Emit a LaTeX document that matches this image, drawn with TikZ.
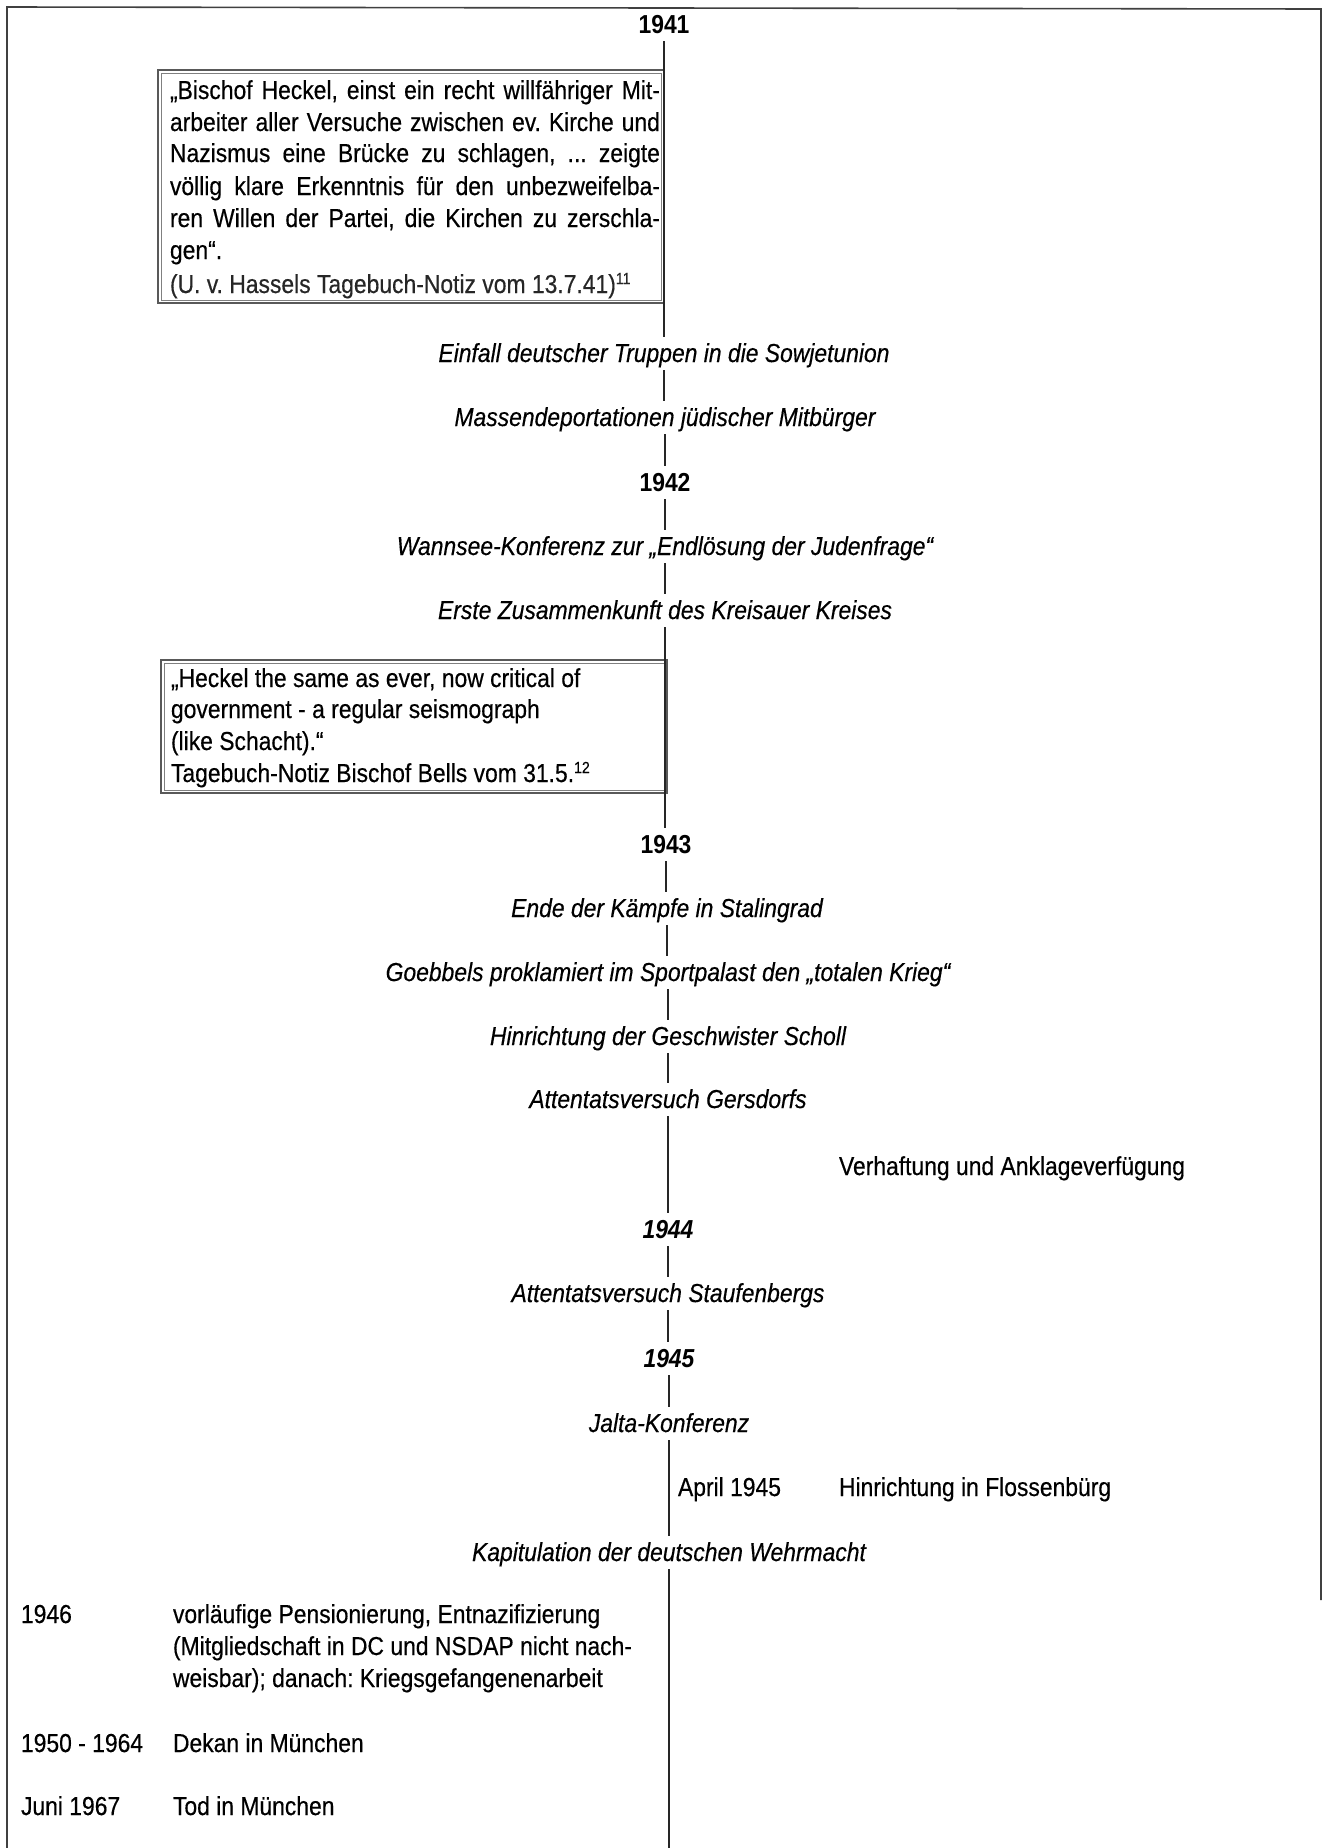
\documentclass[tikz,border=0pt]{standalone}
\usepackage{fontspec}
\setmainfont{Liberation Sans}[FakeStretch=0.88,UprightFeatures={FakeBold=0.4},ItalicFeatures={FakeBold=0.4}]
\newcommand{\supnum}[1]{\raisebox{4.5pt}{\fontsize{8pt}{8pt}\selectfont #1}}
\frenchspacing
\begin{document}
\begin{tikzpicture}[x=0.5pt,y=-0.5pt,
  every node/.style={font=\fontsize{13pt}{15.9pt}\selectfont, inner sep=0pt, outer sep=0pt},
  tl/.style={anchor=base, inner sep=2pt, text height=10.5pt, text depth=2pt, font=\fontsize{13pt}{15.9pt}\selectfont\itshape},
  yr/.style={tl, font=\fontsize{13pt}{15.9pt}\selectfont\bfseries},
  yri/.style={tl, font=\fontsize{13pt}{15.9pt}\selectfont\bfseries\itshape},
  txt/.style={anchor=base west},
  qbox/.style={draw=black!65, line width=1.4pt},
  qinner/.style={draw=black!50, line width=0.5pt},
  axis/.style={line width=0.75pt, draw=black!85},
  frame/.style={line width=0.8pt, draw=black!75}]
\useasboundingbox (0,0) rectangle (1324,1848);
\fill[white] (0,0) rectangle (1324,1848);
% outer frame
\draw[frame] (7,1848) -- (7,7) -- (1321,9) -- (1321,1600);
% quote boxes
\draw[qbox] (158,70) rectangle (664,303);
\draw[qinner] (161,73) rectangle (661,300);
\draw[qbox] (161,660) rectangle (667,793);
\draw[qinner] (164,663) rectangle (664,790);
% quote 1
\node[txt] (q1a) at (170,99) {\makebox[245pt][s]{„Bischof Heckel, einst ein recht willfähriger Mit-}};
\node[txt] (q1b) at (170,131) {\makebox[245pt][s]{arbeiter aller Versuche zwischen ev. Kirche und}};
\node[txt] (q1c) at (170,162) {\makebox[245pt][s]{Nazismus eine Brücke zu schlagen, ... zeigte}};
\node[txt] (q1d) at (170,195) {\makebox[245pt][s]{völlig klare Erkenntnis für den unbezweifelba-}};
\node[txt] (q1e) at (170,227) {\makebox[245pt][s]{ren Willen der Partei, die Kirchen zu zerschla-}};
\node[txt] (q1f) at (170,259) {gen“.};
\node[txt, text=black!85] (q1g) at (170,293) {(U. v. Hassels Tagebuch-Notiz vom 13.7.41)\supnum{11}};
% quote 2
\node[txt] (q2a) at (171,687) {„Heckel the same as ever, now critical of};
\node[txt] (q2b) at (171,718) {government - a regular seismograph};
\node[txt] (q2c) at (171,750) {(like Schacht).“};
\node[txt] (q2d) at (171,782) {Tagebuch-Notiz Bischof Bells vom 31.5.\supnum{12}};
% timeline labels
\node[yr] (y41) at (664,33) {1941};
\node[tl] (e1) at (664,362) {Einfall deutscher Truppen in die Sowjetunion};
\node[tl] (e2) at (665,426) {Massendeportationen jüdischer Mitbürger};
\node[yr] (y42) at (665,491) {1942};
\node[tl] (e3) at (665,555) {Wannsee-Konferenz zur „Endlösung der Judenfrage“};
\node[tl] (e4) at (665,619) {Erste Zusammenkunft des Kreisauer Kreises};
\node[yr] (y43) at (666,853) {1943};
\node[tl] (e5) at (667,917) {Ende der Kämpfe in Stalingrad};
\node[tl] (e6) at (668,981) {Goebbels proklamiert im Sportpalast den „totalen Krieg“};
\node[tl] (e7) at (668,1045) {Hinrichtung der Geschwister Scholl};
\node[tl] (e8) at (668,1108) {Attentatsversuch Gersdorfs};
\node[yri] (y44) at (668,1238) {1944};
\node[tl] (e9) at (668,1302) {Attentatsversuch Staufenbergs};
\node[yri] (y45) at (669,1367) {1945};
\node[tl] (e10) at (669,1432) {Jalta-Konferenz};
\node[tl] (e11) at (669,1561) {Kapitulation der deutschen Wehrmacht};
\coordinate (bot) at (669,1848);
% axis segments (vertical)
\draw[axis] (y41.south) -- (y41.south |- e1.north);
\draw[axis] (e1.south) -- (e1.south |- e2.north);
\draw[axis] (e2.south) -- (e2.south |- y42.north);
\draw[axis] (y42.south) -- (y42.south |- e3.north);
\draw[axis] (e3.south) -- (e3.south |- e4.north);
\draw[axis] (e4.south) -- (e4.south |- y43.north);
\draw[axis] (y43.south) -- (y43.south |- e5.north);
\draw[axis] (e5.south) -- (e5.south |- e6.north);
\draw[axis] (e6.south) -- (e6.south |- e7.north);
\draw[axis] (e7.south) -- (e7.south |- e8.north);
\draw[axis] (e8.south) -- (e8.south |- y44.north);
\draw[axis] (y44.south) -- (y44.south |- e9.north);
\draw[axis] (e9.south) -- (e9.south |- y45.north);
\draw[axis] (y45.south) -- (y45.south |- e10.north);
\draw[axis] (e10.south) -- (e10.south |- e11.north);
\draw[axis] (e11.south) -- (e11.south |- bot);
% side entries
\node[txt] (r1) at (839,1175) {Verhaftung und Anklageverfügung};
\node[txt] (r2) at (678,1496) {April 1945};
\node[txt] (r3) at (839,1496) {Hinrichtung in Flossenbürg};
% bottom entries
\node[txt] (l1) at (21,1623) {1946};
\node[txt] (l1a) at (173,1623) {vorläufige Pensionierung, Entnazifizierung};
\node[txt] (l1b) at (173,1655) {(Mitgliedschaft in DC und NSDAP nicht nach-};
\node[txt] (l1c) at (173,1687) {weisbar); danach: Kriegsgefangenenarbeit};
\node[txt] (l2) at (21,1752) {1950 - 1964};
\node[txt] (l2a) at (173,1752) {Dekan in München};
\node[txt] (l3) at (21,1815) {Juni 1967};
\node[txt] (l3a) at (173,1815) {Tod in München};
\end{tikzpicture}
\end{document}
